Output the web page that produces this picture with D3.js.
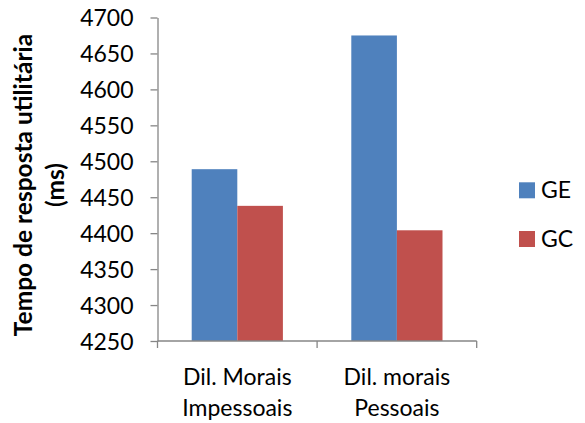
<!DOCTYPE html>
<html>
<head>
<meta charset="utf-8">
<script src="https://cdn.jsdelivr.net/npm/d3@7"></script>
<style>
  html, body { margin: 0; padding: 0; background: #fff; }
  svg { display: block; font-family: Lato, "Open Sans", sans-serif; }
</style>
</head>
<body>
<svg id="chart" width="585" height="423"></svg>
<script>
// Response time (ms) per dilemma type, for each group
const categories = [["Dil. Morais", "Impessoais"], ["Dil. morais", "Pessoais"]];
const seriesNames = ["GE", "GC"];
const seriesColors = ["#4F81BD", "#C0504D"];
const geValues = [4489, 4675];
const gcValues = [4438, 4404];
const yTicks = [4250, 4300, 4350, 4400, 4450, 4500, 4550, 4600, 4650, 4700];
const yTitle = ["Tempo de resposta utilitária", "(ms)"];

const svg = d3.select("#chart");
const plot = { left: 157.5, right: 476.7, top: 17.5, bottom: 341 };
const axisColor = "#868686";
const fontSize = 23;

const x0 = d3.scaleBand().domain(d3.range(categories.length)).range([plot.left, plot.right]);
const bw = x0.bandwidth();
const gapEach = bw * 0.75 / 3.5;
const x1 = d3.scaleBand().domain(seriesNames).range([gapEach, bw - gapEach]);
const y = d3.scaleLinear().domain([4250, 4700]).range([plot.bottom, plot.top]);
const color = d3.scaleOrdinal().domain(seriesNames).range(seriesColors);

const seriesValues = { GE: geValues, GC: gcValues };

// Bars
const groups = svg.append("g").selectAll("g")
  .data(categories.map((c, i) => i))
  .join("g")
  .attr("transform", i => `translate(${x0(i)},0)`);

groups.selectAll("rect")
  .data(i => seriesNames.map(s => ({ s, v: seriesValues[s][i] })))
  .join("rect")
  .attr("x", d => x1(d.s))
  .attr("width", x1.bandwidth())
  .attr("y", d => y(d.v))
  .attr("height", d => y(4250) - y(d.v))
  .attr("fill", d => color(d.s));

// Y axis
const yAxis = svg.append("g")
  .attr("transform", `translate(${plot.left},0)`)
  .call(d3.axisLeft(y).tickValues(yTicks).tickFormat(d3.format("d")).tickSize(7).tickSizeOuter(0).tickPadding(17));
yAxis.select(".domain").attr("stroke", axisColor).attr("stroke-width", 1.3);
yAxis.selectAll(".tick line").attr("stroke", axisColor).attr("stroke-width", 1.3);
yAxis.selectAll(".tick text")
  .attr("font-size", fontSize).attr("font-family", "Lato")
  .attr("fill", "#000").attr("dy", "0.35em");

// X axis: tick marks at category boundaries
const boundaries = d3.range(categories.length + 1).map(i => plot.left + i * bw);
const xAxis = svg.append("g");
xAxis.append("line")
  .attr("x1", plot.left).attr("x2", plot.right).attr("y1", plot.bottom).attr("y2", plot.bottom)
  .attr("stroke", axisColor).attr("stroke-width", 1.3);
xAxis.selectAll("line.tick")
  .data(boundaries)
  .join("line")
  .attr("class", "tick")
  .attr("x1", d => d).attr("x2", d => d)
  .attr("y1", plot.bottom).attr("y2", plot.bottom + 7)
  .attr("stroke", axisColor).attr("stroke-width", 1.3);

// Category labels (two lines each)
svg.append("g").selectAll("text")
  .data(categories.map((c, i) => ({ c, i })))
  .join("text")
  .attr("text-anchor", "middle")
  .attr("font-size", fontSize)
  .attr("fill", "#000")
  .each(function(d) {
    const t = d3.select(this);
    d.c.forEach((line, k) => {
      t.append("tspan")
        .attr("x", x0(d.i) + bw / 2)
        .attr("y", 385 + k * 31)
        .text(line);
    });
  });

// Y axis title
svg.append("g").selectAll("text")
  .data(yTitle)
  .join("text")
  .attr("transform", (d, k) => `translate(${32 + k * 32},185) rotate(-90)`)
  .attr("text-anchor", "middle")
  .attr("font-size", 24.5)
  .attr("font-weight", "bold")
  .attr("fill", "#000")
  .text(d => d);

// Legend
const legend = svg.append("g").selectAll("g")
  .data(seriesNames)
  .join("g")
  .attr("transform", (d, k) => `translate(519,${182.3 + k * 48.7})`);
legend.append("rect")
  .attr("width", 16).attr("height", 16)
  .attr("fill", d => color(d));
legend.append("text")
  .attr("x", 22).attr("y", 15.5)
  .attr("font-size", fontSize)
  .attr("fill", "#000")
  .text(d => d);
</script>
</body>
</html>
